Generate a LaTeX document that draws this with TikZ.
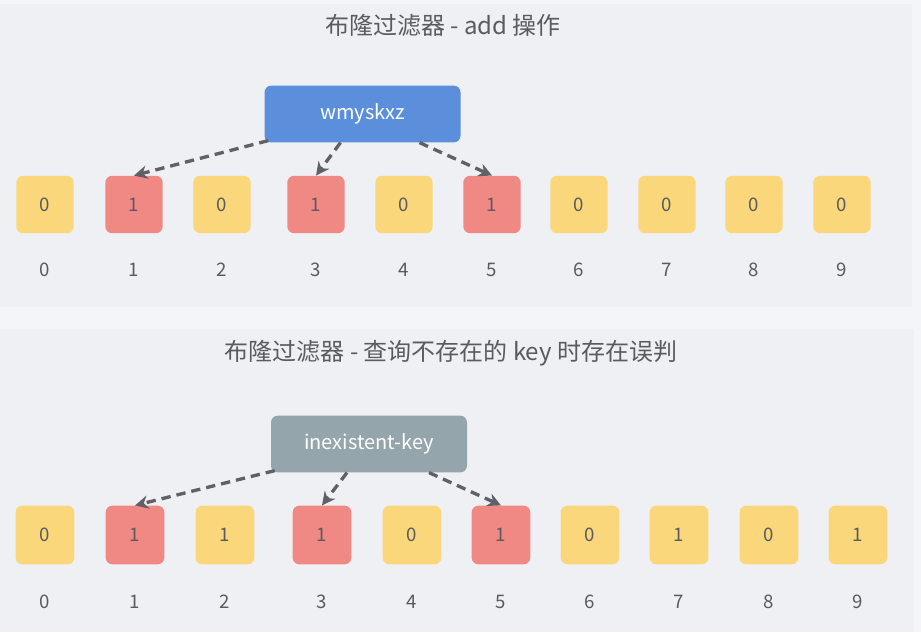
\documentclass[tikz,border=0pt]{standalone}
\usepackage{fontspec}
\setmainfont{Noto Sans CJK SC}
\usetikzlibrary{arrows.meta,calc,positioning}
\definecolor{pagegrey}{RGB}{244,245,249}
\definecolor{panelgrey}{RGB}{239,240,244}
\definecolor{bityellow}{RGB}{249,215,122}
\definecolor{bitred}{RGB}{240,136,132}
\definecolor{keyblue}{RGB}{91,143,220}
\definecolor{keygrey}{RGB}{149,165,172}
\definecolor{textgrey}{RGB}{90,90,96}
\definecolor{arrowgrey}{RGB}{96,96,104}
\tikzset{
  bit/.style={rounded corners=5pt,fill=bityellow,text=textgrey,
    minimum width=43pt,minimum height=43pt,inner sep=0pt,
    font=\fontsize{14}{14}\selectfont},
  setbit/.style={bit,fill=bitred},
  keybox/.style={rounded corners=5pt,text=white,inner sep=0pt,
    minimum width=147pt,minimum height=42.5pt,
    font=\fontsize{15}{15}\selectfont},
  hashflow/.style={-{Stealth[length=10pt,width=10pt]},line width=2.5pt,
    draw=arrowgrey,dash pattern=on 7pt off 4.5pt},
  paneltitle/.style={text=textgrey,font=\fontsize{18}{18}\selectfont},
  bitindex/.style={text=textgrey,font=\fontsize{14}{14}\selectfont}
}

\begin{document}
\begin{tikzpicture}[x=0.75pt,y=-0.75pt]
  % background and panels
  \fill[pagegrey] (0,0) rectangle (921,632);
  \useasboundingbox (0,0) rectangle (921,632);
  \fill[panelgrey] (0,4) rectangle (912,307);
  \fill[panelgrey] (0,329) rectangle (914,632);

  % add
  \node[paneltitle] (addtitle) at (443,25) {布隆过滤器 - add 操作};
  \node[keybox,fill=keyblue] (addkey) at (362.5,114) {wmyskxz};
  \foreach \i/\x/\v/\s in {0/45/0/bit,1/134/1/setbit,2/222/0/bit,3/316/1/setbit,
      4/404/0/bit,5/492/1/setbit,6/579/0/bit,7/667/0/bit,8/754/0/bit,9/842/0/bit}{
    \node[\s] (a\i) at (\x,204.5) {\v};
    \node[bitindex] (ai\i) at (\x,270) {\i};
  }
  \draw[hashflow] ($(addkey.south west)+(4,-2)$) -- (a1.north);
  \draw[hashflow] ($(addkey.south)+(-22,0)$) -- (a3.north);
  \draw[hashflow] ($(addkey.south)+(57,0)$) -- (a5.north);

  % query
  \node[paneltitle] (querytitle) at (451,353) {布隆过滤器 - 查询不存在的 key 时存在误判};
  \node[keybox,fill=keygrey] (querykey) at (369,444) {inexistent-key};
  \foreach \i/\x/\v/\s in {0/45/0/bit,1/135/1/setbit,2/225/1/bit,3/322/1/setbit,
      4/412/0/bit,5/501/1/setbit,6/590/0/bit,7/679/1/bit,8/769/0/bit,9/858/1/bit}{
    \node[\s,minimum size=44pt] (b\i) at (\x,535) {\v};
    \node[bitindex] (bi\i) at (\x,602) {\i};
  }
  \draw[hashflow] ($(querykey.south west)+(4,-2)$) -- (b1.north);
  \draw[hashflow] ($(querykey.south)+(-22,0)$) -- (b3.north);
  \draw[hashflow] ($(querykey.south)+(60,0)$) -- (b5.north);
\end{tikzpicture}
\end{document}
